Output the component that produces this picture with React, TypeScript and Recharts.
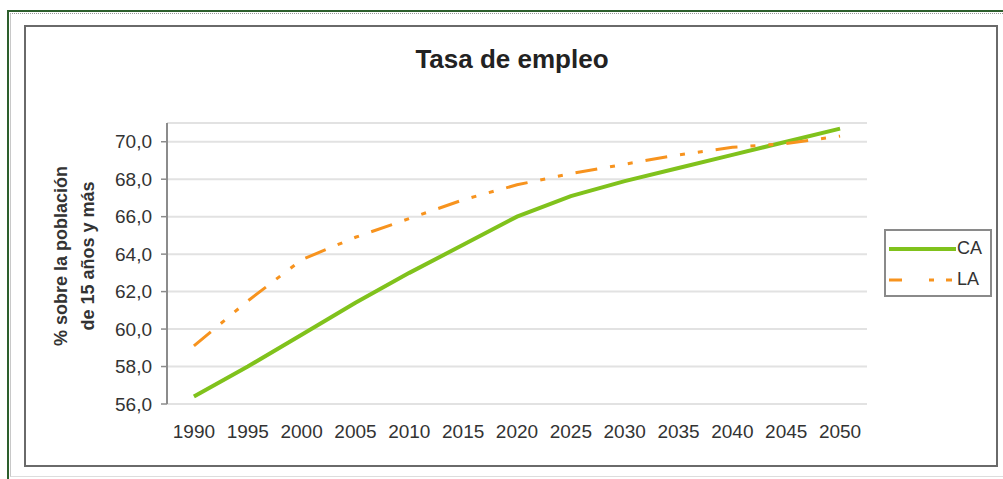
import React from 'react';
import { LineChart, Line, XAxis, YAxis, CartesianGrid, Legend } from 'recharts';

// data
const years = [1990, 1995, 2000, 2005, 2010, 2015, 2020, 2025, 2030, 2035, 2040, 2045, 2050];
const caValues = [56.4, 58.0, 59.7, 61.4, 63.0, 64.5, 66.0, 67.1, 67.9, 68.6, 69.3, 70.0, 70.7];
const laValues = [59.1, 61.5, 63.7, 64.9, 65.9, 66.9, 67.7, 68.3, 68.8, 69.3, 69.7, 69.9, 70.3];
const yTicks = [56, 58, 60, 62, 64, 66, 68, 70];

const GREEN = '#80c21c';
const ORANGE = '#f7931e';
const FONT = '"Liberation Sans", Arial, sans-serif';
const LA_DASH = '22 13 5 13 5 13';

const data = years.map((year, i) => ({ year, CA: caValues[i], LA: laValues[i] }));

// category boundaries, used only for the small tick marks under the axis
const boundaries = [...years.map((y) => y - 2.5), years[years.length - 1] + 2.5];

const formatNum = (v: number) => v.toFixed(1).replace('.', ',');

const YLabel = () => (
  <g fontFamily={FONT} fontWeight="bold" fontSize={18} fill="#333">
    <text x={61} y={256} transform="rotate(-90 61 256)" textAnchor="middle" dominantBaseline="central">
      % sobre la población
    </text>
    <text x={88} y={256} transform="rotate(-90 88 256)" textAnchor="middle" dominantBaseline="central">
      de 15 años y más
    </text>
  </g>
);

const LegendBox = (props: any) => {
  const { payload } = props;
  return (
    <div
      style={{
        width: 108,
        height: 68,
        boxSizing: 'border-box',
        border: '2px solid #8a8a8a',
        background: '#fff',
        fontFamily: FONT,
        fontSize: 18,
        color: '#333',
      }}
    >
      {(payload || []).map((p: any) => (
        <div key={p.value} style={{ display: 'flex', alignItems: 'center', height: 31, marginTop: p.value === 'CA' ? 2 : 0 }}>
          <svg width={70} height={10} style={{ marginLeft: 3 }}>
            <line
              x1={0}
              x2={67}
              y1={5}
              y2={5}
              stroke={p.color}
              strokeWidth={p.value === 'CA' ? 4 : 3}
              strokeDasharray={p.value === 'LA' ? '13 27 5 12 6 100' : undefined}
            />
          </svg>
          <span style={{ marginLeft: -2 }}>{p.value}</span>
        </div>
      ))}
    </div>
  );
};

export default function App() {
  return (
    <div style={{ position: 'absolute', left: 0, top: 0, width: 1003, height: 479, overflow: 'hidden', background: '#fff' }}>
      {/* outer green frame */}
      <div
        style={{
          position: 'absolute',
          left: 7,
          top: 10,
          width: 1010,
          height: 480,
          borderTop: '2px solid #2d5f2d',
          borderLeft: '2px solid #2d5f2d',
        }}
      />
      <div
        style={{
          position: 'absolute',
          left: 10,
          top: 13,
          width: 1000,
          height: 462,
          borderTop: '1px dotted #999',
          borderLeft: '1px solid #c8c8c8',
          borderBottom: '1px solid #ddd',
        }}
      />
      {/* chart box */}
      <div
        style={{
          position: 'absolute',
          left: 24,
          top: 25,
          width: 974,
          height: 442,
          boxSizing: 'border-box',
          border: '2px solid #6a6a6a',
          background: '#fff',
        }}
      />
      <div
        style={{
          position: 'absolute',
          left: 362,
          top: 46,
          width: 300,
          textAlign: 'center',
          fontFamily: FONT,
          fontWeight: 'bold',
          fontSize: 26,
          lineHeight: '26px',
          color: '#222',
        }}
      >
        Tasa de empleo
      </div>
      <div style={{ position: 'absolute', left: 0, top: 0 }}>
        <LineChart width={1003} height={479} data={data} margin={{ top: 123, right: 136, bottom: 45, left: 107 }}>
          <CartesianGrid horizontal vertical={false} stroke="#e2e2e2" strokeWidth={2} />
          <XAxis
            xAxisId="marks"
            dataKey="year"
            type="number"
            domain={[1987.5, 2052.5]}
            ticks={boundaries}
            interval={0}
            height={0}
            tickSize={5}
            tickFormatter={() => ''}
            axisLine={{ stroke: '#8c8c8c', strokeWidth: 2 }}
            tickLine={{ stroke: '#8c8c8c', strokeWidth: 1.5 }}
          />
          <XAxis
            dataKey="year"
            type="number"
            domain={[1987.5, 2052.5]}
            ticks={years}
            interval={0}
            height={30}
            axisLine={false}
            tickLine={false}
            tickSize={0}
            tickMargin={21}
            tick={{ fontFamily: FONT, fontSize: 19, fill: '#333' }}
          />
          <YAxis
            type="number"
            domain={[56, 71]}
            ticks={yTicks}
            interval={0}
            width={60}
            tickSize={6}
            tickMargin={9}
            tickFormatter={formatNum}
            axisLine={{ stroke: '#8c8c8c', strokeWidth: 2 }}
            tickLine={{ stroke: '#8c8c8c', strokeWidth: 1.5 }}
            tick={{ fontFamily: FONT, fontSize: 19, fill: '#333' }}
            label={{ content: () => <YLabel /> }}
          />
          <Legend
            layout="vertical"
            align="center"
            verticalAlign="middle"
            content={<LegendBox />}
            wrapperStyle={{ position: 'absolute', left: 884, top: 229, width: 108, height: 68, margin: 0 }}
          />
          <Line
            dataKey="CA"
            name="CA"
            type="linear"
            stroke={GREEN}
            strokeWidth={4}
            dot={false}
            isAnimationActive={false}
          />
          <Line
            dataKey="LA"
            name="LA"
            type="linear"
            stroke={ORANGE}
            strokeWidth={3}
            strokeDasharray={LA_DASH}
            dot={false}
            isAnimationActive={false}
          />
        </LineChart>
      </div>
    </div>
  );
}
